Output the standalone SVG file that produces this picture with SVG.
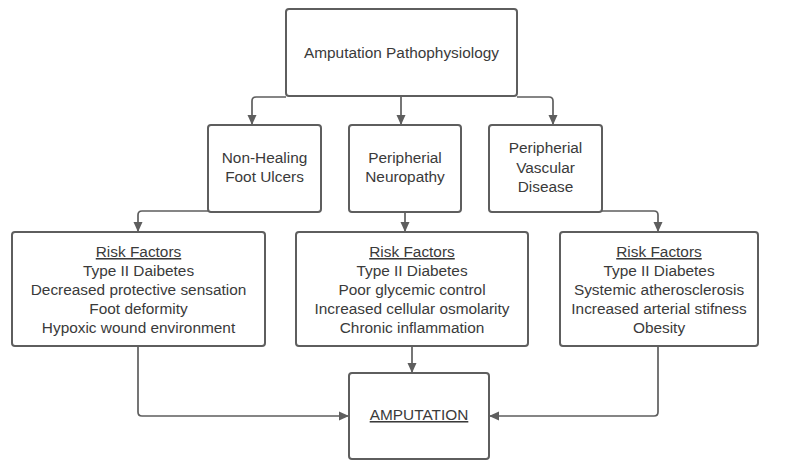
<svg xmlns="http://www.w3.org/2000/svg" width="785" height="462" viewBox="0 0 785 462">
<style>
.box{fill:#fff;stroke:#5e5e5e;stroke-width:2}
.t{font-family:"Liberation Sans",Arial,sans-serif;font-size:15.4px;fill:#3a3a3a;text-anchor:middle}
.u{text-decoration:underline}
.c{fill:none;stroke:#5e5e5e;stroke-width:1.7;stroke-linejoin:round}
</style>
<defs>
<marker id="ah" markerWidth="10" markerHeight="10" refX="9" refY="5" orient="auto" markerUnits="userSpaceOnUse">
<path d="M0,0.5 L10,5 L0,9.5 Z" fill="#5e5e5e"/>
</marker>
</defs>
<rect width="785" height="462" fill="#fff"/>
<g id="connectors">
<path class="c" d="M286,97 H256 Q252,97 252,101 V124" marker-end="url(#ah)"/>
<path class="c" d="M401,96 V124" marker-end="url(#ah)"/>
<path class="c" d="M517,97 H549 Q553,97 553,101 V124" marker-end="url(#ah)"/>
<path class="c" d="M208,211 H142 Q138,211 138,215 V231" marker-end="url(#ah)"/>
<path class="c" d="M405,212 V231" marker-end="url(#ah)"/>
<path class="c" d="M602,211 H654 Q658,211 658,215 V231" marker-end="url(#ah)"/>
<path class="c" d="M138,346 V412 Q138,416 142,416 H348" marker-end="url(#ah)"/>
<path class="c" d="M412,346 V372" marker-end="url(#ah)"/>
<path class="c" d="M658,346 V412 Q658,416 654,416 H490" marker-end="url(#ah)"/>
</g>
<g id="top">
<rect class="box" x="286" y="9" width="231" height="87" rx="3"/>
<text class="t" x="401.5" y="58">Amputation Pathophysiology</text>
</g>
<g id="nhfu">
<rect class="box" x="208" y="125" width="113" height="87" rx="3"/>
<text class="t" x="264.5" y="163">Non-Healing</text>
<text class="t" x="264.5" y="182">Foot Ulcers</text>
</g>
<g id="pn">
<rect class="box" x="349" y="125" width="112" height="87" rx="3"/>
<text class="t" x="405" y="163">Peripherial</text>
<text class="t" x="405" y="182">Neuropathy</text>
</g>
<g id="pvd">
<rect class="box" x="489" y="125" width="113" height="87" rx="3"/>
<text class="t" x="545.5" y="153">Peripherial</text>
<text class="t" x="545.5" y="173">Vascular</text>
<text class="t" x="545.5" y="192">Disease</text>
</g>
<g id="rf1">
<rect class="box" x="12" y="232" width="253" height="114" rx="3"/>
<text class="t u" x="138.5" y="257">Risk Factors</text>
<text class="t" x="138.5" y="276">Type II Daibetes</text>
<text class="t" x="138.5" y="295">Decreased protective sensation</text>
<text class="t" x="138.5" y="314">Foot deformity</text>
<text class="t" x="138.5" y="333">Hypoxic wound environment</text>
</g>
<g id="rf2">
<rect class="box" x="296" y="232" width="232" height="114" rx="3"/>
<text class="t u" x="412" y="257">Risk Factors</text>
<text class="t" x="412" y="276">Type II Diabetes</text>
<text class="t" x="412" y="295">Poor glycemic control</text>
<text class="t" x="412" y="314">Increased cellular osmolarity</text>
<text class="t" x="412" y="333">Chronic inflammation</text>
</g>
<g id="rf3">
<rect class="box" x="560" y="232" width="198" height="114" rx="3"/>
<text class="t u" x="659" y="257">Risk Factors</text>
<text class="t" x="659" y="276">Type II Diabetes</text>
<text class="t" x="659" y="295">Systemic atherosclerosis</text>
<text class="t" x="659" y="314">Increased arterial stifness</text>
<text class="t" x="659" y="333">Obesity</text>
</g>
<g id="amp">
<rect class="box" x="349" y="373" width="140" height="86" rx="3"/>
<text class="t u" x="419" y="420">AMPUTATION</text>
</g>
</svg>
